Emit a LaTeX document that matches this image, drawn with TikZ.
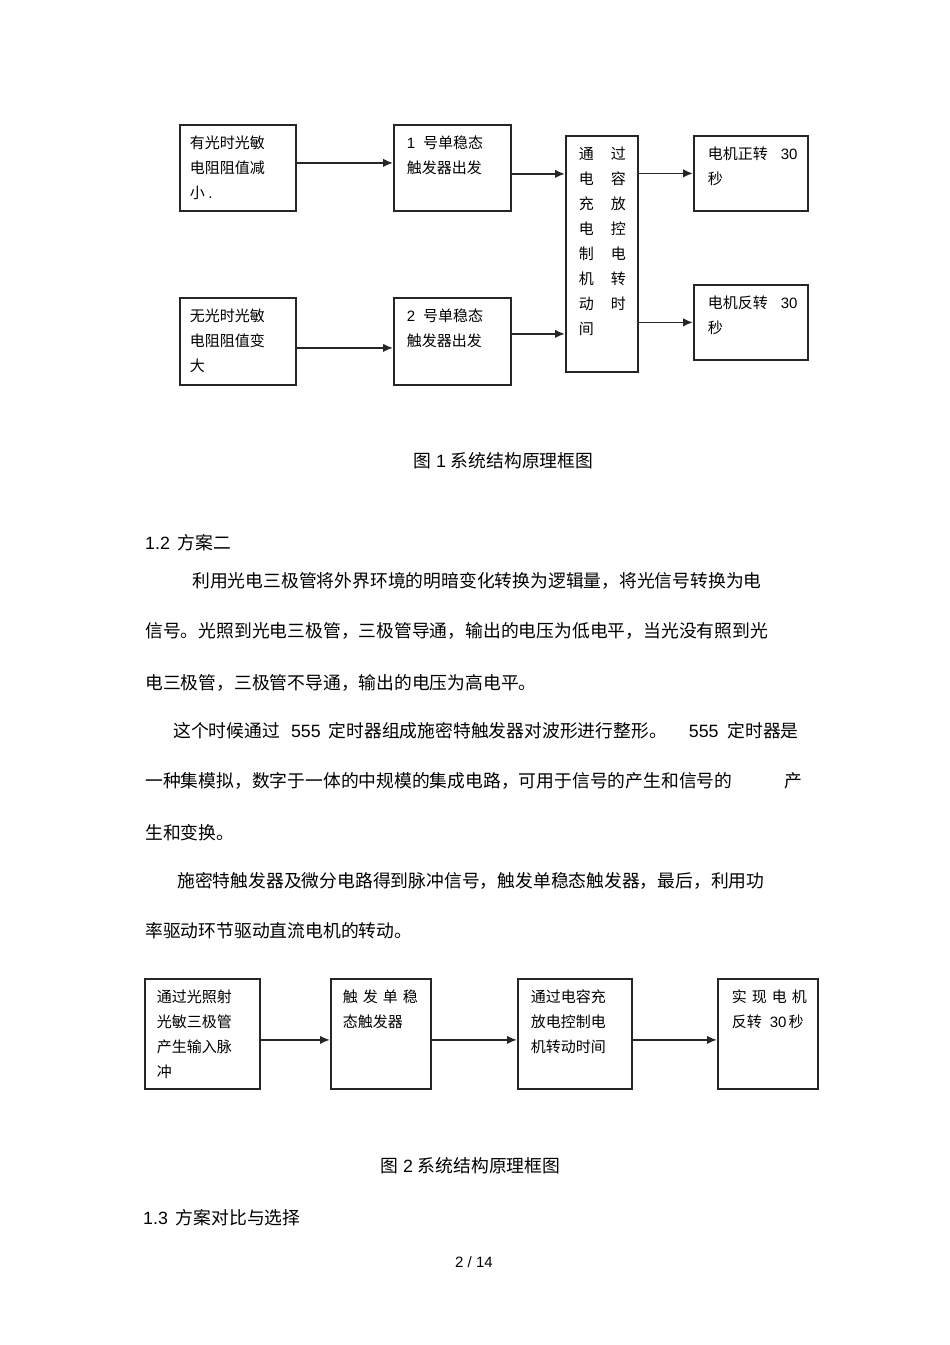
\documentclass[tikz,border=0pt]{standalone}
\usepackage{fontspec}
\setmainfont{Noto Sans CJK SC}
\newfontfamily\arial{Liberation Sans}
\usetikzlibrary{arrows.meta}
\newcommand{\blk}[4]{\parbox[t][#2][t]{#1}{\vspace*{11pt}\raggedright\leftskip=#3\relax #4}}

\begin{document}
\begin{tikzpicture}[x=1pt, y=-1pt]
        \tikzstyle{box} = [shape=rectangle, draw=black!85, line width=1.8pt, inner sep=0pt, anchor=north west, font=\fontsize{15pt}{25pt}\selectfont]
        \tikzstyle{txt} = [inner sep=0pt, anchor=base west, font=\fontsize{17.8pt}{18pt}\selectfont]
        \tikzstyle{arr} = [-{Latex[length=10pt,width=8.5pt]}, line width=1.8pt, draw=black!85]

        \useasboundingbox (0,0) rectangle (950,1345);

        \node[box] (a1) at (179,124) {\blk{116pt}{86pt}{10pt}{有光时光敏\\电阻阻值减\\小 {\arial .}}};
        \node[box] (b1) at (393,124) {\blk{117pt}{86pt}{13pt}{{\arial 1}\kern8pt号单稳态\\触发器出发}};
        \node[box] (a2) at (179,297) {\blk{116pt}{87pt}{10pt}{无光时光敏\\电阻阻值变\\大}};
        \node[box] (b2) at (393,297) {\blk{117pt}{87pt}{13pt}{{\arial 2}\kern8pt号单稳态\\触发器出发}};

        \node[box] (c) at (565,135) {\blk{72pt}{236pt}{13pt}{通\kern17pt过\\电\kern17pt容\\充\kern17pt放\\电\kern17pt控\\制\kern17pt电\\机\kern17pt转\\动\kern17pt时\\间}};

        \node[box] (d1) at (693,135) {\blk{114pt}{75pt}{14pt}{电机正转\kern13pt{\arial 30}\\秒}};
        \node[box] (d2) at (693,284) {\blk{114pt}{75pt}{14pt}{电机反转\kern13pt{\arial 30}\\秒}};

        \draw[arr] ([yshift=5pt]a1.east) -- ([yshift=5pt]b1.west);
        \draw[arr] ([yshift=-6pt]b1.east) coordinate (bc1) -- (bc1 -| c.west);
        \draw[arr] ([yshift=-6.5pt]a2.east) -- ([yshift=-6.5pt]b2.west);
        \draw[arr] ([yshift=7.5pt]b2.east) coordinate (bc2) -- (bc2 -| c.west);
        \draw[arr] (c.east |- d1.west) -- (d1.west);
        \draw[arr] (c.east |- d2.west) -- (d2.west);

        \node[txt] (cap1) at (413,467) {图\kern5pt{\arial 1}\kern5pt系统结构原理框图};

        \node[txt] (h12) at (145,549) {{\arial 1.2}\kern8pt方案二};
        \node[txt] (p1) at (192,587) {利用光电三极管将外界环境的明暗变化转换为逻辑量，将光信号转换为电};
        \node[txt] (p2) at (145,637) {信号。光照到光电三极管，三极管导通，输出的电压为低电平，当光没有照到光};
        \node[txt] (p3) at (145,689) {电三极管，三极管不导通，输出的电压为高电平。};
        \node[txt] (p4) at (173,737) {这个时候通过\kern11pt{\arial 555}\kern8pt定时器组成施密特触发器对波形进行整形。\kern22pt{\arial 555}\kern9pt定时器是};
        \node[txt] (p5) at (145,787) {一种集模拟，数字于一体的中规模的集成电路，可用于信号的产生和信号的\kern52pt产};
        \node[txt] (p6) at (145,839) {生和变换。};
        \node[txt] (p7) at (177,887) {施密特触发器及微分电路得到脉冲信号，触发单稳态触发器，最后，利用功};
        \node[txt] (p8) at (145,937) {率驱动环节驱动直流电机的转动。};

        \node[box] (e1) at (144,978) {\blk{115pt}{110pt}{12pt}{通过光照射\\光敏三极管\\产生输入脉\\冲}};
        \node[box] (e2) at (330,978) {\blk{100pt}{110pt}{12pt}{触\kern5pt发\kern5pt单\kern5pt稳\\态触发器}};
        \node[box] (e3) at (517,978) {\blk{114pt}{110pt}{13pt}{通过电容充\\放电控制电\\机转动时间}};
        \node[box] (e4) at (717,978) {\blk{100pt}{110pt}{14pt}{实\kern5pt现\kern5pt电\kern5pt机\\反转\kern8pt{\arial 30}\kern2pt秒}};

        \draw[arr] ([yshift=-6pt]e1.east) -- ([yshift=-6pt]e2.west);
        \draw[arr] ([yshift=-6pt]e2.east) -- ([yshift=-6pt]e3.west);
        \draw[arr] ([yshift=-6pt]e3.east) -- ([yshift=-6pt]e4.west);

        \node[txt] (cap2) at (380,1172) {图\kern5pt{\arial 2}\kern5pt系统结构原理框图};
        \node[txt] (h13) at (143,1224) {{\arial 1.3}\kern8pt方案对比与选择};

        \node[txt, font=\fontsize{15pt}{15pt}\arial] (pg) at (455,1267) {2 / 14};

\end{tikzpicture}
\end{document}
